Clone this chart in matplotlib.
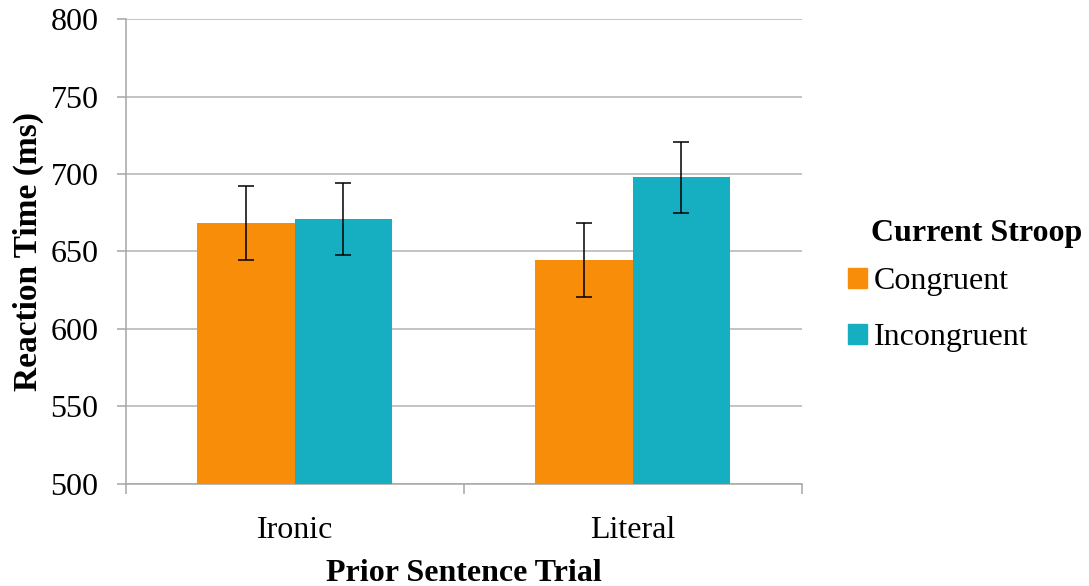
import matplotlib.pyplot as plt
import numpy as np
from matplotlib.patches import Patch

plt.rcParams['font.family'] = ['Liberation Serif', 'DejaVu Serif']

categories = ['Ironic', 'Literal']
congruent = [668.4, 644.5]
incongruent = [671.0, 697.9]
congruent_err = [24.0, 24.0]
incongruent_err = [23.0, 23.0]
series_names = ['Congruent', 'Incongruent']

orange = '#F78D08'
teal = '#16AEC1'
grid_c = '#BEBEBE'
axis_c = '#A6A6A6'

fig = plt.figure(figsize=(10.89, 5.86), dpi=100)
ax = fig.add_axes([125.7 / 1089, 1 - 483.7 / 586, (801.7 - 125.7) / 1089, (483.7 - 19.3) / 586])

x = np.arange(len(categories))
w = 0.288
ekw = dict(ecolor='black', elinewidth=1.1, capsize=5.8, capthick=1.1)
ax.bar(x - w / 2, congruent, w, yerr=congruent_err, color=orange, error_kw=ekw, zorder=3)
ax.bar(x + w / 2, incongruent, w, yerr=incongruent_err, color=teal, error_kw=ekw, zorder=3)

ax.set_xlim(-0.5, 1.5)
ax.set_ylim(500, 800)
ax.set_yticks(np.arange(500, 801, 50))
ax.yaxis.grid(True, color=grid_c, linewidth=1.3, zorder=0)
ax.set_axisbelow(True)

ax.set_xticks([-0.5, 0.5, 1.5])
ax.set_xticklabels([])
ax.set_xticks(x, minor=True)
ax.set_xticklabels(categories, minor=True)
ax.tick_params(axis='x', which='major', length=7, width=1.1, color=axis_c, direction='out')
ax.tick_params(axis='x', which='minor', length=0, pad=23, labelsize=23)
ax.tick_params(axis='y', length=6.5, width=1.1, color=axis_c, pad=13, labelsize=23)

for s in ['top', 'right']:
    ax.spines[s].set_visible(False)
for s in ['left', 'bottom']:
    ax.spines[s].set_color(axis_c)
    ax.spines[s].set_linewidth(1.1)

ax.set_xlabel('Prior Sentence Trial', fontsize=23, fontweight='bold', labelpad=10)
ax.set_ylabel('Reaction Time (ms)', fontsize=24, fontweight='bold', labelpad=5)

handles = [Patch(color=orange), Patch(color=teal)]
fig.text(871 / 1089, 1 - 233 / 586, 'Current Stroop', fontsize=23, fontweight='bold',
         ha='left', va='center')
fig.legend(handles, series_names, loc='upper left', bbox_to_anchor=(848 / 1089, 1 - 267 / 586),
           frameon=False, fontsize=23, handlelength=0.6, handleheight=0.6,
           handletextpad=0.2, labelspacing=0.85, borderpad=0, borderaxespad=0)

fig.savefig('out.png', dpi=100)
